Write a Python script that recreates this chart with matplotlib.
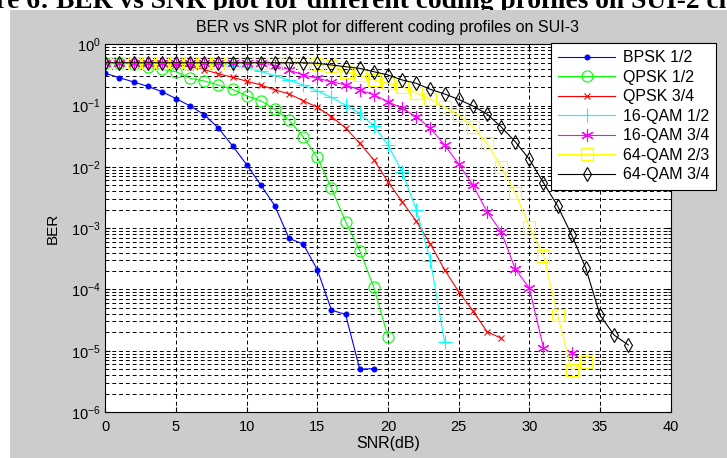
import numpy as np
import matplotlib.pyplot as plt
from matplotlib.patches import Rectangle

plt.rcParams['font.family'] = ['Liberation Sans', 'DejaVu Sans']
plt.rcParams['mathtext.default'] = 'regular'

# --- Data ---
bpsk_12 = [0.336, 0.285, 0.243, 0.206, 0.169, 0.13, 0.0986, 0.071, 0.043, 0.022,
           0.0109, 0.00507, 0.0023, 6.8e-4, 5.5e-4, 2.1e-4, 4.6e-5, 3.9e-5, 5.0e-6, 5.1e-6]
qpsk_12 = [0.5, 0.5, 0.47, 0.42, 0.39, 0.357, 0.279, 0.252, 0.217, 0.184,
           0.144, 0.12, 0.087, 0.058, 0.031, 0.0143, 0.0045, 0.00128, 4.3e-4, 1.08e-4,
           1.68e-5]
qpsk_34 = [0.5, 0.5, 0.5, 0.5, 0.5, 0.47, 0.43, 0.385, 0.33, 0.29,
           0.25, 0.217, 0.18, 0.155, 0.12, 0.094, 0.066, 0.043, 0.0243, 0.013,
           0.0057, 0.0027, 0.0013, 5.5e-4, 2.1e-4, 9.2e-5, 4.5e-5, 2.05e-5, 1.6e-5]
qam16_12 = [0.5, 0.5, 0.5, 0.5, 0.5, 0.5, 0.5, 0.49, 0.47, 0.45,
            0.42, 0.36, 0.31, 0.26, 0.217, 0.173, 0.136, 0.102, 0.075, 0.046,
            0.0228, 0.0083, 0.002, 2.95e-4, 1.4e-5]
qam16_34 = [0.5, 0.5, 0.5, 0.5, 0.5, 0.5, 0.5, 0.5, 0.5, 0.5,
            0.5, 0.5, 0.45, 0.381, 0.316, 0.279, 0.245, 0.217, 0.18, 0.149,
            0.116, 0.09, 0.066, 0.0426, 0.0228, 0.0111, 0.0051, 0.00186, 8.8e-4, 2.16e-4,
            1.05e-4, 1.12e-5, np.nan, 9.3e-6]
qam64_23 = [0.5, 0.5, 0.5, 0.5, 0.5, 0.5, 0.5, 0.5, 0.5, 0.5,
            0.5, 0.5, 0.5, 0.5, 0.5, 0.47, 0.44, 0.357, 0.316, 0.262,
            0.231, 0.204, 0.162, 0.128, 0.094, 0.070, 0.045, 0.0243, 0.01, 0.0038,
            0.00104, 3.56e-4, 3.8e-5, 4.9e-6, 6.6e-6]
qam64_34 = [0.5, 0.5, 0.5, 0.5, 0.5, 0.5, 0.5, 0.5, 0.5, 0.5,
            0.5, 0.5, 0.5, 0.5, 0.5, 0.49, 0.46, 0.43, 0.405, 0.357,
            0.316, 0.262, 0.231, 0.184, 0.155, 0.126, 0.0986, 0.073, 0.045, 0.0258,
            0.0133, 0.0055, 0.0023, 7.7e-4, 2.2e-4, 3.8e-5, 1.8e-5, 1.24e-5]

series = [
    ("BPSK 1/2", bpsk_12, "#0000ff", ".", 7),
    ("QPSK 1/2", qpsk_12, "#00ff00", "o", 8),
    ("QPSK 3/4", qpsk_34, "#ff0000", "x", 5),
    ("16-QAM 1/2", qam16_12, "#00ffff", "+", 10),
    ("16-QAM 3/4", qam16_34, "#ff00ff", (6, 2, 0), 9),
    ("64-QAM 2/3", qam64_23, "#ffff00", "s", 9),
    ("64-QAM 3/4", qam64_34, "#000000", "d", 7),
]

W, H = 727, 458
fig = plt.figure(figsize=(W / 100, H / 100), dpi=100, facecolor="white")

# gray MATLAB figure background, clipped caption above it
fig.patches.append(Rectangle((10 / W, 0), 1, (H - 9.5) / H, transform=fig.transFigure,
                             facecolor="#cccccc", edgecolor="none", zorder=-1))
fig.text(-58 / W, (H - 7.5) / H,
         "Figure 6: BER vs SNR plot for different coding profiles on SUI-2 channel",
         family=["Liberation Serif"], weight="bold", fontsize=19.8,
         va="baseline", ha="left", zorder=-2)

ax = fig.add_axes([105.3 / W, 46 / H, 565.4 / W, 367.7 / H])
ax.set_facecolor("white")

for name, ber, color, marker, ms in series:
    snr = np.arange(len(ber))
    filled = marker == "."
    ax.semilogy(snr, ber, color=color, marker=marker, ms=ms, lw=0.8, mew=0.8,
                mfc=color if filled else "none", label=name)

ax.set_xlim(0, 40)
ax.set_ylim(1e-6, 1)
ax.set_xticks(np.arange(0, 41, 5))
ax.grid(True, which="major", axis="x", color="black", ls=(0, (4, 3)), lw=0.7)
ax.grid(True, which="both", axis="y", color="black", ls=(0, (4, 3)), lw=0.7)
ax.tick_params(which="both", direction="in", top=True, right=True, labelsize=10.5,
               colors="black")
ax.tick_params(axis="x", pad=6)
for s in ax.spines.values():
    s.set_linewidth(0.8)

ax.set_title("BER vs SNR plot for different coding profiles on SUI-3", fontsize=11.5, pad=9)
ax.set_xlabel("SNR(dB)", fontsize=11.5, labelpad=1)
ax.set_ylabel("BER", fontsize=11, labelpad=8)

leg = ax.legend(loc="upper left", bbox_to_anchor=(550.7 / W, (H - 43.3) / H),
                bbox_transform=fig.transFigure, borderaxespad=0, fontsize=11.5,
                fancybox=False, framealpha=1, edgecolor="black", handlelength=3.6,
                labelspacing=0.28, borderpad=0.45, handletextpad=0.45)
leg.get_frame().set_linewidth(0.8)

fig.savefig("out.png", dpi=100, facecolor=fig.get_facecolor())
